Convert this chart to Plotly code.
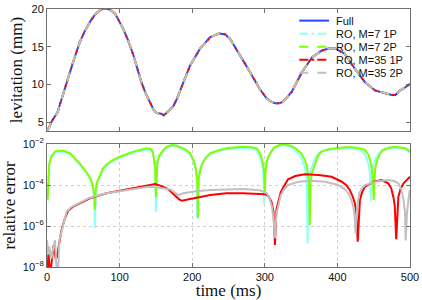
import plotly.graph_objects as go

# ---------------- data ----------------
# Top panel: levitation (mm) vs time (ms); all models overlap at this resolution
lev_t = [0, 3, 6, 9, 12, 15, 18, 27, 36, 45, 52, 59, 66, 73, 78, 82, 88, 94, 105, 112, 119,
         130, 136, 142, 147, 151, 156, 161, 165, 169, 174, 179, 188, 197, 211, 225, 237, 245,
         252, 266, 280, 293, 303, 309, 314, 319, 323, 328, 332, 337, 351, 365, 378, 388, 397,
         410, 424, 438, 452, 466, 475, 480, 486, 492, 500]
lev_full = [3.8, 4.3, 5.0, 5.5, 5.85, 6.4, 7.4, 10.3, 13.0, 15.6, 17.1, 18.3, 19.3, 19.9, 20.1,
            20.1, 19.9, 19.4, 17.4, 15.8, 13.9, 10.3, 8.8, 7.6, 6.6, 6.2, 6.15, 5.9, 6.2, 6.6,
            7.1, 8.1, 10.3, 12.5, 14.8, 16.3, 16.8, 16.7, 16.1, 13.9, 11.6, 9.4, 8.1, 7.7, 7.5,
            7.5, 7.6, 8.0, 8.5, 9.0, 11.6, 13.6, 14.5, 14.8, 14.8, 14.1, 12.1, 10.3, 9.2, 8.8,
            8.6, 8.6, 9.2, 9.5, 10.1]
lev_m7_1p = lev_full
lev_m7_2p = lev_full
lev_m35_1p = lev_full
lev_m35_2p = lev_full

# Bottom panel: relative error, stored as log10 exponents
green_t = [1, 2, 3, 6, 11, 16, 23, 32, 45, 55, 60, 63, 65, 66, 67, 69, 73, 77, 82, 90, 100, 119,
           137, 143, 146, 148, 149, 150, 151, 152, 155, 160, 165, 172, 178, 183, 190, 197, 202,
           205, 207, 208, 209, 211, 214, 219, 225, 236, 247, 260, 270, 282, 289, 294, 297, 299,
           300, 301, 303, 306, 312, 320, 327, 335, 342, 350, 355, 358, 360, 361, 362, 363, 365,
           369, 373, 378, 388, 397, 410, 420, 430, 438, 443, 446, 448, 449, 450, 451, 452, 455,
           459, 463, 471, 479, 488, 494, 500]
green_exp = [-4.7, -3.4, -3.0, -2.6, -2.37, -2.33, -2.33, -2.45, -2.94, -3.4, -3.7, -4.0, -4.5,
             -5.2, -4.3, -3.85, -3.5, -3.2, -3.0, -2.8, -2.62, -2.37, -2.21, -2.25, -2.4, -2.8,
             -3.2, -4.6, -3.3, -2.9, -2.55, -2.3, -2.13, -2.05, -2.07, -2.13, -2.25, -2.45, -2.8,
             -3.2, -3.8, -5.6, -3.7, -3.3, -2.95, -2.65, -2.45, -2.3, -2.21, -2.16, -2.13, -2.16,
             -2.21, -2.5, -2.85, -3.3, -4.4, -3.3, -2.8, -2.55, -2.2, -2.05, -2.0, -2.08, -2.2,
             -2.45, -2.75, -3.1, -3.5, -3.9, -5.95, -3.9, -3.4, -2.94, -2.6, -2.37, -2.25, -2.21,
             -2.16, -2.16, -2.2, -2.29, -2.55, -2.9, -3.3, -3.7, -4.73, -3.6, -3.2, -2.75, -2.45,
             -2.29, -2.18, -2.13, -2.16, -2.21, -2.37]

cyan_t = [1, 2, 3, 6, 11, 16, 23, 32, 45, 55, 60, 63, 65, 66, 67, 69, 73, 77, 82, 90, 100, 119,
          137, 143, 146, 148, 149, 150, 151, 152, 155, 160, 165, 172, 178, 183, 190, 197, 202,
          205, 206, 207, 208, 210, 213, 218, 225, 236, 247, 260, 270, 282, 288, 293, 296, 298,
          299, 300, 302, 305, 311, 319, 326, 334, 340, 347, 352, 355, 357, 358, 359, 360, 362,
          366, 370, 375, 385, 395, 408, 420, 430, 436, 440, 443, 445, 446, 447, 449, 452, 456,
          461, 470, 478, 488, 494, 500]
cyan_exp = [-4.75, -3.45, -3.05, -2.65, -2.42, -2.38, -2.38, -2.5, -3.0, -3.45, -3.75, -4.05,
            -4.6, -6.1, -4.4, -3.9, -3.55, -3.25, -3.05, -2.85, -2.67, -2.42, -2.27, -2.3, -2.45,
            -2.85, -3.3, -5.3, -3.35, -2.95, -2.6, -2.35, -2.18, -2.1, -2.12, -2.18, -2.3, -2.5,
            -2.85, -3.25, -3.7, -5.65, -3.75, -3.35, -3.0, -2.7, -2.5, -2.35, -2.26, -2.21,
            -2.18, -2.21, -2.3, -2.6, -2.95, -3.4, -4.9, -3.4, -2.9, -2.6, -2.25, -2.1, -2.05,
            -2.12, -2.25, -2.5, -2.8, -3.15, -3.55, -4.0, -6.85, -4.0, -3.45, -3.0, -2.65, -2.42,
            -2.3, -2.26, -2.21, -2.21, -2.27, -2.4, -2.65, -3.0, -3.5, -4.8, -3.5, -3.05, -2.75,
            -2.5, -2.33, -2.22, -2.18, -2.2, -2.26, -2.42]

red_t = [0, 2, 4, 9, 12, 14, 17, 20, 24, 29, 36, 45, 59, 82, 105, 128, 140, 149, 155, 160, 165,
         170, 176, 182, 186, 197, 225, 247, 270, 293, 300, 305, 309, 312, 314, 316, 319, 322, 326,
         332, 342, 355, 374, 392, 406, 412, 417, 421, 424, 426, 428, 430, 431, 434, 438, 450,
         461, 470, 474, 477, 479, 481, 483, 484, 487, 491, 500]
red_exp = [-9.0, -7.2, -8.5, -6.93, -7.6, -7.5, -6.8, -6.2, -5.7, -5.25, -5.06, -4.9, -4.65,
           -4.4, -4.24, -4.08, -4.0, -3.95, -4.02, -4.08, -4.16, -4.3, -4.49, -4.7, -4.77, -4.68,
           -4.49, -4.4, -4.4, -4.44, -4.45, -4.55, -4.8, -5.3, -6.93, -5.2, -4.73, -4.35, -4.08,
           -3.72, -3.56, -3.48, -3.51, -3.6, -3.84, -4.0, -4.24, -4.55, -4.89, -5.3, -6.77, -5.2,
           -4.73, -4.35, -4.08, -3.84, -3.76, -3.92, -4.15, -4.57, -5.0, -6.65, -5.0, -4.57, -4.2,
           -3.92, -3.6]

gray_t = [0, 1.5, 3, 6, 9, 11, 13, 15, 17, 22, 27, 34, 45, 59, 82, 105, 128, 140, 150, 156,
          170, 176, 181, 188, 202, 225, 270, 293, 303, 307, 310, 312, 314, 316, 319, 322, 326,
          332, 346, 365, 383, 401, 410, 415, 419, 422, 424, 425, 427, 428, 430, 434, 438, 452,
          470, 479, 484, 488, 491, 493, 494, 496, 497, 499, 500]
gray_exp = [-6.7, -7.4, -7.0, -7.6, -7.0, -6.7, -8.0, -8.5, -6.7, -6.0, -5.3, -5.06, -4.85,
            -4.62, -4.4, -4.27, -4.14, -4.08, -4.1, -4.15, -4.22, -4.35, -4.49, -4.4, -4.32,
            -4.24, -4.2, -4.26, -4.4, -4.7, -5.1, -5.6, -6.6, -5.4, -4.9, -4.5, -4.24, -4.0,
            -3.84, -3.79, -3.84, -4.0, -4.2, -4.4, -4.7, -5.06, -5.6, -6.36, -5.2, -4.8, -4.4,
            -4.15, -4.0, -3.84, -3.76, -3.82, -3.92, -4.2, -4.73, -5.3, -6.7, -5.3, -4.89, -4.4,
            -4.24]

x_ticks = [0, 100, 200, 300, 400, 500]
lev_ticks = [5, 10, 15, 20]
err_ticks = [1e-8, 1e-6, 1e-4, 1e-2]
err_ticktext = ["10<sup>\u22128</sup>", "10<sup>\u22126</sup>", "10<sup>\u22124</sup>",
                "10<sup>\u22122</sup>"]

names = ["Full", "RO, M=7 1P", "RO, M=7 2P", "RO, M=35 1P", "RO, M=35 2P"]
colors = ["#2348ff", "#8cffff", "#80ff00", "#ff0000", "#c0c0c0"]
dashes = ["solid", "dashdot", "dash", "dashdot", "dash"]

# ---------------- figure ----------------
fig = go.Figure()

top_series = [lev_full, lev_m7_1p, lev_m7_2p, lev_m35_1p, lev_m35_2p]
for nm, col, ds, ys in zip(names, colors, dashes, top_series):
    fig.add_trace(go.Scatter(x=lev_t, y=ys, mode="lines", name=nm, showlegend=False,
                             line=dict(color=col, width=2, dash=ds),
                             xaxis="x", yaxis="y"))

err_series = [(cyan_t, cyan_exp, colors[1]), (green_t, green_exp, colors[2]),
              (red_t, red_exp, colors[3]), (gray_t, gray_exp, colors[4])]
for tt, ee, col in err_series:
    fig.add_trace(go.Scatter(x=tt, y=[10 ** e for e in ee], mode="lines", showlegend=False,
                             line=dict(color=col, width=2), xaxis="x2", yaxis="y2"))

frame = "#707070"
gridc = "#d0d0d0"
tickfont = dict(family="Liberation Sans, Arial, sans-serif", size=11, color="#111")
titlefont = dict(family="Liberation Serif, Times New Roman, serif", size=17, color="#111")

common_x = dict(range=[0, 500], tickvals=x_ticks, ticks="inside", ticklen=4, tickcolor=frame,
                showline=True, linecolor=frame, linewidth=1, mirror="ticks", zeroline=False,
                automargin=False)

# compact legend (MATLAB style, tight rows) built in paper coordinates
shapes = []
annotations = []
leg_x0, leg_x1, leg_tx = 0.695, 0.777, 0.79
leg_y0, leg_dy = 0.955, 0.0505
for i, (nm, col, ds) in enumerate(zip(names, colors, dashes)):
    yy = leg_y0 - i * leg_dy
    shapes.append(dict(type="line", xref="paper", yref="paper", x0=leg_x0, x1=leg_x1,
                       y0=yy, y1=yy, line=dict(color=col, width=2, dash=ds)))
    annotations.append(dict(xref="paper", yref="paper", x=leg_tx, y=yy, text=nm,
                            showarrow=False, xanchor="left", yanchor="middle",
                            font=dict(family="Liberation Sans, Arial, sans-serif", size=11,
                                      color="#111")))

fig.update_layout(
    width=422, height=300,
    margin=dict(l=47, r=12, t=9, b=33),
    paper_bgcolor="white", plot_bgcolor="white",
    font=tickfont,
    showlegend=False,
    xaxis=dict(domain=[0, 1], anchor="y", showticklabels=False, showgrid=False, **common_x),
    yaxis=dict(domain=[0.527, 1], anchor="x", range=[3.8, 20.05], tickvals=lev_ticks,
               ticks="inside", ticklen=4, tickcolor=frame, showline=True, linecolor=frame,
               mirror="ticks", showgrid=False, zeroline=False, tickfont=tickfont,
               automargin=False,
               title=dict(text="levitation (mm)", font=titlefont, standoff=4)),
    xaxis2=dict(domain=[0, 1], anchor="y2", showgrid=True, gridcolor=gridc,
                griddash="dot", gridwidth=1, tickfont=tickfont,
                title=dict(text="time (ms)", font=titlefont, standoff=2), **common_x),
    yaxis2=dict(domain=[0, 0.4767], anchor="x2", type="log", range=[-8, -2],
                tickvals=err_ticks, ticktext=err_ticktext, ticks="inside", ticklen=4,
                tickcolor=frame, showline=True, linecolor=frame, mirror="ticks",
                showgrid=True, gridcolor=gridc, griddash="dot", zeroline=False,
                tickfont=tickfont, automargin=False,
                title=dict(text="relative error", font=titlefont, standoff=2)),
    shapes=shapes,
    annotations=annotations,
)

fig.write_html("out.html", config={"displayModeBar": False},
               post_script="document.body.style.margin='0';")
